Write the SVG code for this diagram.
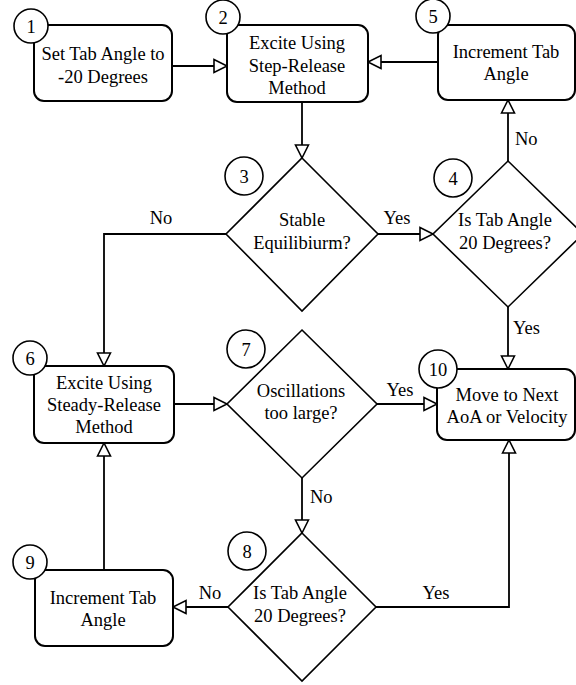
<svg xmlns="http://www.w3.org/2000/svg" width="576" height="685" viewBox="0 0 576 685">
<style>
.box{fill:#fff;stroke:#000;stroke-width:2}
.dia{fill:#fff;stroke:#000;stroke-width:1.6}
.num{fill:#fff;stroke:#000;stroke-width:1.6}
text{font-family:'Liberation Serif',Tinos,'Times New Roman',Times,'Noto Serif','DejaVu Serif',FreeSerif,serif;font-size:18.5px;fill:#000}
.t{text-anchor:middle}
.c{fill:none;stroke:#000;stroke-width:1.8}
</style>
<defs>
<marker id="arr" markerUnits="userSpaceOnUse" markerWidth="16" markerHeight="16" refX="13" refY="6.5" orient="auto" overflow="visible">
<path d="M0,0 L13,6.5 L0,13 Z" fill="#fff" stroke="#000" stroke-width="1.6"/>
</marker>
</defs>
<rect width="576" height="685" fill="#fff"/>
<g id="connectors">
<path class="c" d="M172,66 L227,66" marker-end="url(#arr)"/>
<path class="c" d="M438,62 L368,62" marker-end="url(#arr)"/>
<path class="c" d="M302,102 L302,158" marker-end="url(#arr)"/>
<path class="c" d="M378,234 L433,234" marker-end="url(#arr)"/>
<path class="c" d="M508,161 L508,100" marker-end="url(#arr)"/>
<path class="c" d="M508,307 L508,369" marker-end="url(#arr)"/>
<path class="c" d="M226,234 L104,234 L104,366" marker-end="url(#arr)"/>
<path class="c" d="M174,404 L227,404" marker-end="url(#arr)"/>
<path class="c" d="M377,404 L437,404" marker-end="url(#arr)"/>
<path class="c" d="M302,478 L302,533" marker-end="url(#arr)"/>
<path class="c" d="M228,607 L173,607" marker-end="url(#arr)"/>
<path class="c" d="M376,607 L509,607 L509,440" marker-end="url(#arr)"/>
<path class="c" d="M104,570 L104,443" marker-end="url(#arr)"/>
<text class="t" x="161" y="224">No</text>
<text class="t" x="397" y="224">Yes</text>
<text x="515" y="145">No</text>
<text x="513" y="334">Yes</text>
<text class="t" x="400" y="396">Yes</text>
<text x="310" y="503">No</text>
<text class="t" x="210" y="599">No</text>
<text class="t" x="436" y="599">Yes</text>
</g>
<g id="n1">
<rect class="box" x="34" y="25" width="138" height="76" rx="10"/>
<circle class="num" cx="31" cy="26" r="17"/>
<text class="t" x="31" y="32.5">1</text>
<text class="t" x="103" y="60">Set Tab Angle to</text>
<text class="t" x="103" y="82.5">-20 Degrees</text>
</g>
<g id="n2">
<rect class="box" x="227" y="25" width="141" height="77" rx="10"/>
<circle class="num" cx="223" cy="17" r="17"/>
<text class="t" x="223" y="23.5">2</text>
<text class="t" x="297" y="49">Excite Using</text>
<text class="t" x="297" y="71.5">Step-Release</text>
<text class="t" x="297" y="93.5">Method</text>
</g>
<g id="n5">
<rect class="box" x="438" y="25" width="137" height="75" rx="10"/>
<circle class="num" cx="433" cy="16" r="17"/>
<text class="t" x="433" y="22.5">5</text>
<text class="t" x="506" y="57.5">Increment Tab</text>
<text class="t" x="506" y="80">Angle</text>
</g>
<g id="n3">
<polygon class="dia" points="302,158 378,234 302,311 226,234"/>
<circle class="num" cx="244" cy="176" r="19"/>
<text class="t" x="244" y="182.5">3</text>
<text class="t" x="302" y="226">Stable</text>
<text class="t" x="302" y="249">Equilibiurm?</text>
</g>
<g id="n4">
<polygon class="dia" points="508,161 583,234 508,307 433,234"/>
<circle class="num" cx="453" cy="178" r="19"/>
<text class="t" x="453" y="184.5">4</text>
<text class="t" x="505" y="226">Is Tab Angle</text>
<text class="t" x="505" y="249">20 Degrees?</text>
</g>
<g id="n6">
<rect class="box" x="34" y="366" width="140" height="77" rx="10"/>
<circle class="num" cx="30" cy="358" r="17"/>
<text class="t" x="30" y="364.5">6</text>
<text class="t" x="104" y="388.5">Excite Using</text>
<text class="t" x="104" y="411">Steady-Release</text>
<text class="t" x="104" y="433">Method</text>
</g>
<g id="n7">
<polygon class="dia" points="302,330 377,404 302,478 227,404"/>
<circle class="num" cx="246" cy="349" r="19"/>
<text class="t" x="246" y="355.5">7</text>
<text class="t" x="301" y="397">Oscillations</text>
<text class="t" x="301" y="419">too large?</text>
</g>
<g id="n10">
<rect class="box" x="437" y="369" width="138" height="71" rx="10"/>
<circle class="num" cx="438" cy="369" r="19"/>
<text class="t" x="438" y="375.5">10</text>
<text class="t" x="507" y="401">Move to Next</text>
<text class="t" x="507" y="423">AoA or Velocity</text>
</g>
<g id="n8">
<polygon class="dia" points="302,533 376,607 302,681 228,607"/>
<circle class="num" cx="247" cy="551" r="19"/>
<text class="t" x="247" y="557.5">8</text>
<text class="t" x="300" y="599">Is Tab Angle</text>
<text class="t" x="300" y="622">20 Degrees?</text>
</g>
<g id="n9">
<rect class="box" x="35" y="570" width="138" height="76" rx="10"/>
<circle class="num" cx="30" cy="562" r="17"/>
<text class="t" x="30" y="568.5">9</text>
<text class="t" x="103" y="604">Increment Tab</text>
<text class="t" x="103" y="626">Angle</text>
</g>
</svg>
